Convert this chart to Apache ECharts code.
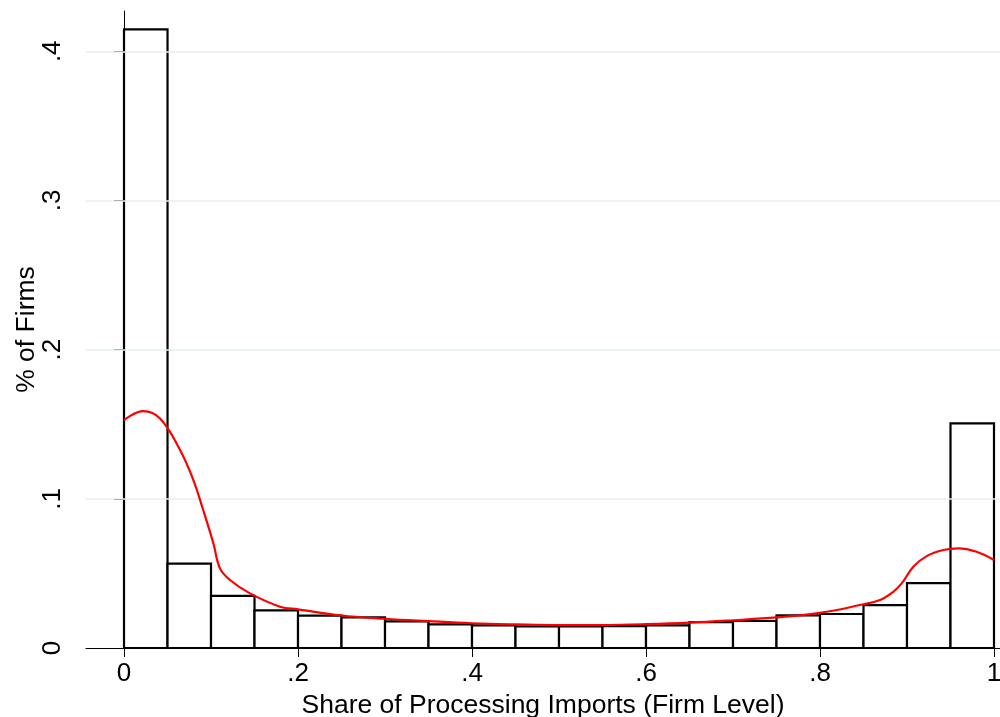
<!DOCTYPE html>
<html>
<head>
<meta charset="utf-8">
<script src="https://cdn.jsdelivr.net/npm/echarts@6/dist/echarts.min.js"></script>
<style>
  html, body { margin: 0; padding: 0; background: #fff; }
  #chart { width: 1000px; height: 717px; }
</style>
</head>
<body>
<div id="chart"></div>
<script>
// histogram bins (width 0.05) and their heights (fraction of firms)
var binStarts = [0, 0.05, 0.1, 0.15, 0.2, 0.25, 0.3, 0.35, 0.4, 0.45,
                 0.5, 0.55, 0.6, 0.65, 0.7, 0.75, 0.8, 0.85, 0.9, 0.95];
var binWidth = 0.05;
var binHeights = [0.4147, 0.0566, 0.0350, 0.0252, 0.0217, 0.0205, 0.0179, 0.0159, 0.0152, 0.0145,
                  0.0145, 0.0147, 0.0152, 0.0174, 0.0181, 0.0219, 0.0228, 0.0288, 0.0435, 0.1506];

// kernel density curve
var densityX = [0, 0.022, 0.0414, 0.0644, 0.0797, 0.091, 0.1027, 0.1103, 0.1218, 0.1448,
                0.1793, 0.2, 0.25, 0.3, 0.35, 0.4, 0.45, 0.5, 0.55, 0.6,
                0.65, 0.7, 0.75, 0.8, 0.846, 0.869, 0.8843, 0.8939, 0.9073, 0.9226,
                0.9418, 0.959, 0.98, 1.0];
var densityY = [0.1528, 0.1588, 0.1539, 0.1327, 0.1126, 0.0925, 0.0702, 0.0534, 0.0456, 0.0366,
                0.0277, 0.0259, 0.0218, 0.0196, 0.0180, 0.0166, 0.0158, 0.0153, 0.0154, 0.0160,
                0.0170, 0.0186, 0.0205, 0.0235, 0.0288, 0.0322, 0.0377, 0.0433, 0.0545, 0.0616,
                0.0657, 0.0668, 0.0645, 0.0590];

var xTicks = [0, 0.2, 0.4, 0.6, 0.8, 1];
var yTicks = [0, 0.1, 0.2, 0.3, 0.4];

var FONT = '"Liberation Sans", Arial, sans-serif';

// stata style: ".2" instead of "0.2"
function stataLabel(v) {
  var s = String(Math.round(v * 10) / 10);
  return s.replace(/^0\./, '.');
}

var chart = echarts.init(document.getElementById('chart'));

var histData = binStarts.map(function (x0, i) { return [x0, x0 + binWidth, binHeights[i]]; });
var curveData = densityX.map(function (x, i) { return [x, densityY[i]]; });

var option = {
  animation: false,
  backgroundColor: '#fff',
  textStyle: { fontFamily: FONT, color: '#000' },
  grid: { left: 86, right: 0, top: 11, bottom: 69, containLabel: false, outerBoundsMode: 'none' },
  xAxis: {
    type: 'value',
    min: -0.0437,
    max: 1.0069,
    name: 'Share of Processing Imports (Firm Level)',
    nameLocation: 'middle',
    nameGap: 44,
    nameMoveOverlap: false,
    nameTextStyle: { fontFamily: FONT, fontSize: 26.5, color: '#000' },
    axisLine: { show: true, onZero: false, lineStyle: { color: '#000', width: 1 } },
    axisTick: { show: true, length: 9, customValues: xTicks, lineStyle: { color: '#000' } },
    axisLabel: { customValues: xTicks, fontSize: 26, color: '#000', margin: 13,
                 fontFamily: FONT, formatter: stataLabel },
    splitLine: { show: false }
  },
  yAxis: {
    type: 'value',
    min: 0,
    max: 0.427,
    name: '% of Firms',
    nameLocation: 'middle',
    nameGap: 46,
    nameRotate: 90,
    nameMoveOverlap: false,
    nameTextStyle: { fontFamily: FONT, fontSize: 26.5, color: '#000' },
    axisLine: { show: true, lineStyle: { color: '#000', width: 1 } },
    axisTick: { show: true, length: 10, customValues: yTicks, lineStyle: { color: '#000' } },
    axisLabel: { customValues: yTicks, rotate: 90, fontSize: 26, color: '#000', margin: 20,
                 fontFamily: FONT, formatter: stataLabel },
    splitLine: { show: false }
  },
  series: [
    {
      type: 'custom',
      name: 'grid',
      silent: true,
      data: [],
      markLine: {
        silent: true,
        symbol: 'none',
        label: { show: false },
        lineStyle: { color: '#e3eef0', type: 'solid', width: 1.5 },
        data: yTicks.slice(1).map(function (v) { return { yAxis: v }; })
      },
      renderItem: function () { return null; }
    },
    {
      type: 'custom',
      name: 'histogram',
      data: histData,
      encode: { x: [0, 1], y: 2 },
      renderItem: function (params, api) {
        var p0 = api.coord([api.value(0), api.value(2)]);
        var p1 = api.coord([api.value(1), 0]);
        return {
          type: 'rect',
          shape: { x: p0[0], y: p0[1], width: p1[0] - p0[0], height: p1[1] - p0[1] },
          style: { fill: '#fff', stroke: '#000', lineWidth: 2.2 }
        };
      }
    },
    {
      type: 'line',
      name: 'density',
      data: curveData,
      smooth: 0.4,
      showSymbol: false,
      symbol: 'none',
      lineStyle: { color: '#ff0000', width: 2.2 },
      z: 5
    }
  ]
};

chart.setOption(option);
</script>
</body>
</html>
